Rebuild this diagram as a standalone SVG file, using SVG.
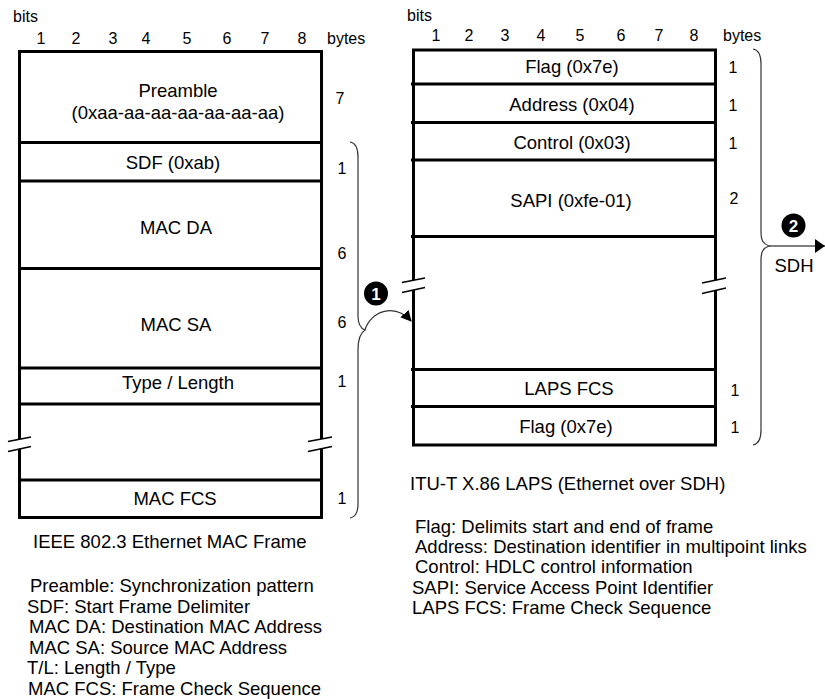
<svg xmlns="http://www.w3.org/2000/svg" width="825" height="699" viewBox="0 0 825 699">
<style>
text{font-family:"Liberation Sans",Arial,sans-serif;fill:#000}
.lbl{font-size:18.5px;text-anchor:middle}
.hdr{font-size:16px}
.num{font-size:16px;text-anchor:middle}
.cnt{font-size:16px;text-anchor:middle}
.leg{font-size:18.5px}
.frame{fill:#fff;stroke:#000;stroke-width:3}
.div{stroke:#000;stroke-width:3}
.brk{stroke:#000;stroke-width:1.6}
.gap{fill:#fff;stroke:none}
.brace{fill:none;stroke:#333;stroke-width:1.2}
.badge{fill:#000}
.badgeT{font-size:17px;font-weight:bold;fill:#fff;text-anchor:middle}
</style>
<defs>
<marker id="ah" viewBox="0 0 10 10" refX="9" refY="5" markerWidth="11" markerHeight="11" markerUnits="userSpaceOnUse" orient="auto">
<path d="M0,0 L10,5 L0,10 Z" fill="#000"/>
</marker>
<marker id="ah2" viewBox="0 0 10 14" refX="10" refY="7" markerWidth="10" markerHeight="14" markerUnits="userSpaceOnUse" orient="auto">
<path d="M0,0 L10,7 L0,14 Z" fill="#000"/>
</marker>
</defs>

<!-- Left frame: IEEE 802.3 -->
<g id="ieee-header">
<text class="hdr" x="13" y="22">bits</text>
<text class="num" x="41" y="44">1</text>
<text class="num" x="76" y="44">2</text>
<text class="num" x="113" y="44">3</text>
<text class="num" x="146" y="44">4</text>
<text class="num" x="187" y="44">5</text>
<text class="num" x="227" y="44">6</text>
<text class="num" x="265" y="44">7</text>
<text class="num" x="302" y="44">8</text>
<text class="hdr" x="327" y="44">bytes</text>
</g>
<g id="ieee-frame">
<rect class="frame" x="19.5" y="51.5" width="302" height="466"/>
<line class="div" x1="18" y1="142.5" x2="321.5" y2="142.5"/>
<line class="div" x1="18" y1="181" x2="321.5" y2="181"/>
<line class="div" x1="18" y1="268.5" x2="321.5" y2="268.5"/>
<line class="div" x1="18" y1="368" x2="321.5" y2="368"/>
<line class="div" x1="18" y1="404" x2="321.5" y2="404"/>
<line class="div" x1="18" y1="480" x2="321.5" y2="480"/>
<polygon class="gap" points="8,441.5 31,437 31,446 8,451.5"/>
<line class="brk" x1="8" y1="441.5" x2="31" y2="437"/>
<line class="brk" x1="8" y1="451.5" x2="31" y2="446.5"/>
<polygon class="gap" points="308,441.5 332,437 332,446.5 308,451.5"/>
<line class="brk" x1="308" y1="441.5" x2="332" y2="437"/>
<line class="brk" x1="308" y1="451.5" x2="332" y2="446.5"/>
</g>
<g id="ieee-preamble">
<text class="lbl" x="178" y="97">Preamble</text>
<text class="lbl" x="178" y="119">(0xaa-aa-aa-aa-aa-aa-aa)</text>
<text class="cnt" x="340" y="104">7</text>
</g>
<g id="ieee-sdf">
<text class="lbl" x="173" y="169">SDF (0xab)</text>
<text class="cnt" x="342" y="174">1</text>
</g>
<g id="ieee-macda">
<text class="lbl" x="176" y="234">MAC DA</text>
<text class="cnt" x="342" y="259">6</text>
</g>
<g id="ieee-macsa">
<text class="lbl" x="176" y="331">MAC SA</text>
<text class="cnt" x="342" y="328">6</text>
</g>
<g id="ieee-type">
<text class="lbl" x="178" y="389">Type / Length</text>
<text class="cnt" x="342" y="387">1</text>
</g>
<g id="ieee-payload"></g>
<g id="ieee-fcs">
<text class="lbl" x="175" y="505">MAC FCS</text>
<text class="cnt" x="342" y="504">1</text>
</g>
<g id="ieee-caption">
<text class="leg" x="33" y="548">IEEE 802.3 Ethernet MAC Frame</text>
</g>
<g id="ieee-legend">
<text class="leg" x="30" y="592">Preamble: Synchronization pattern</text>
<text class="leg" x="27" y="613">SDF: Start Frame Delimiter</text>
<text class="leg" x="29" y="633">MAC DA: Destination MAC Address</text>
<text class="leg" x="29" y="654">MAC SA: Source MAC Address</text>
<text class="leg" x="27" y="674">T/L: Length / Type</text>
<text class="leg" x="28" y="695">MAC FCS: Frame Check Sequence</text>
</g>

<!-- Right frame: LAPS -->
<g id="laps-header">
<text class="hdr" x="407" y="21">bits</text>
<text class="num" x="436" y="41">1</text>
<text class="num" x="469" y="41">2</text>
<text class="num" x="505" y="41">3</text>
<text class="num" x="541" y="41">4</text>
<text class="num" x="580" y="41">5</text>
<text class="num" x="621" y="41">6</text>
<text class="num" x="659" y="41">7</text>
<text class="num" x="694" y="41">8</text>
<text class="hdr" x="723" y="41">bytes</text>
</g>
<g id="laps-frame">
<rect class="frame" x="413.5" y="50" width="302" height="395"/>
<line class="div" x1="411" y1="84" x2="715.5" y2="84"/>
<line class="div" x1="411" y1="122.5" x2="715.5" y2="122.5"/>
<line class="div" x1="411" y1="160" x2="715.5" y2="160"/>
<line class="div" x1="411" y1="236.5" x2="715.5" y2="236.5"/>
<line class="div" x1="411" y1="369.5" x2="715.5" y2="369.5"/>
<line class="div" x1="411" y1="406.5" x2="715.5" y2="406.5"/>
<polygon class="gap" points="402,282.5 425,278 425,287.5 402,292.5"/>
<line class="brk" x1="402" y1="282.5" x2="425" y2="278"/>
<line class="brk" x1="402" y1="292.5" x2="425" y2="287.5"/>
<polygon class="gap" points="702,283 726,278 726,288 702,294"/>
<line class="brk" x1="702" y1="283" x2="726" y2="278"/>
<line class="brk" x1="702" y1="293.5" x2="726" y2="288"/>
</g>
<g id="laps-flag1">
<text class="lbl" x="572" y="73">Flag (0x7e)</text>
<text class="cnt" x="733" y="73">1</text>
</g>
<g id="laps-address">
<text class="lbl" x="572" y="111">Address (0x04)</text>
<text class="cnt" x="733" y="111">1</text>
</g>
<g id="laps-control">
<text class="lbl" x="572" y="149">Control (0x03)</text>
<text class="cnt" x="733" y="149">1</text>
</g>
<g id="laps-sapi">
<text class="lbl" x="571" y="207">SAPI (0xfe-01)</text>
<text class="cnt" x="734" y="204">2</text>
</g>
<g id="laps-payload"></g>
<g id="laps-fcs">
<text class="lbl" x="569" y="395">LAPS FCS</text>
<text class="cnt" x="735" y="396">1</text>
</g>
<g id="laps-flag2">
<text class="lbl" x="566" y="433">Flag (0x7e)</text>
<text class="cnt" x="735" y="433">1</text>
</g>
<g id="laps-caption">
<text class="leg" x="410" y="490">ITU-T X.86 LAPS (Ethernet over SDH)</text>
</g>
<g id="laps-legend">
<text class="leg" x="415" y="533">Flag: Delimits start and end of frame</text>
<text class="leg" x="415" y="553">Address: Destination identifier in multipoint links</text>
<text class="leg" x="415" y="573">Control: HDLC control information</text>
<text class="leg" x="412" y="594">SAPI: Service Access Point Identifier</text>
<text class="leg" x="412" y="614">LAPS FCS: Frame Check Sequence</text>
</g>

<!-- Connectors -->
<g id="connectors">
<path class="brace" d="M350,142 C356,143 358,148 358,157 L358,316 C358,324 360,328 365,330 C360,333 358,340 358,350 L358,504 C358,512 356,517 350,518"/>
<path class="brace" d="M365,330 C370,312 394,302 411,321" stroke="#000" marker-end="url(#ah)"/>
<path class="brace" d="M753,49 C759,50 761,55 761,64 L761,232 C761,240 763,244 769,246 C763,248 761,252 761,260 L761,430 C761,439 759,444 753,445"/>
<line x1="769" y1="246" x2="825" y2="246" stroke="#000" stroke-width="1.2" marker-end="url(#ah2)"/>
</g>
<g id="badge-1">
<circle class="badge" cx="376" cy="293.5" r="12"/>
<text class="badgeT" x="376" y="299.5">1</text>
</g>
<g id="badge-2">
<circle class="badge" cx="793.5" cy="225.5" r="12"/>
<text class="badgeT" x="793.5" y="231.5">2</text>
</g>
<g id="sdh-label">
<text class="lbl" x="794" y="272">SDH</text>
</g>
</svg>
